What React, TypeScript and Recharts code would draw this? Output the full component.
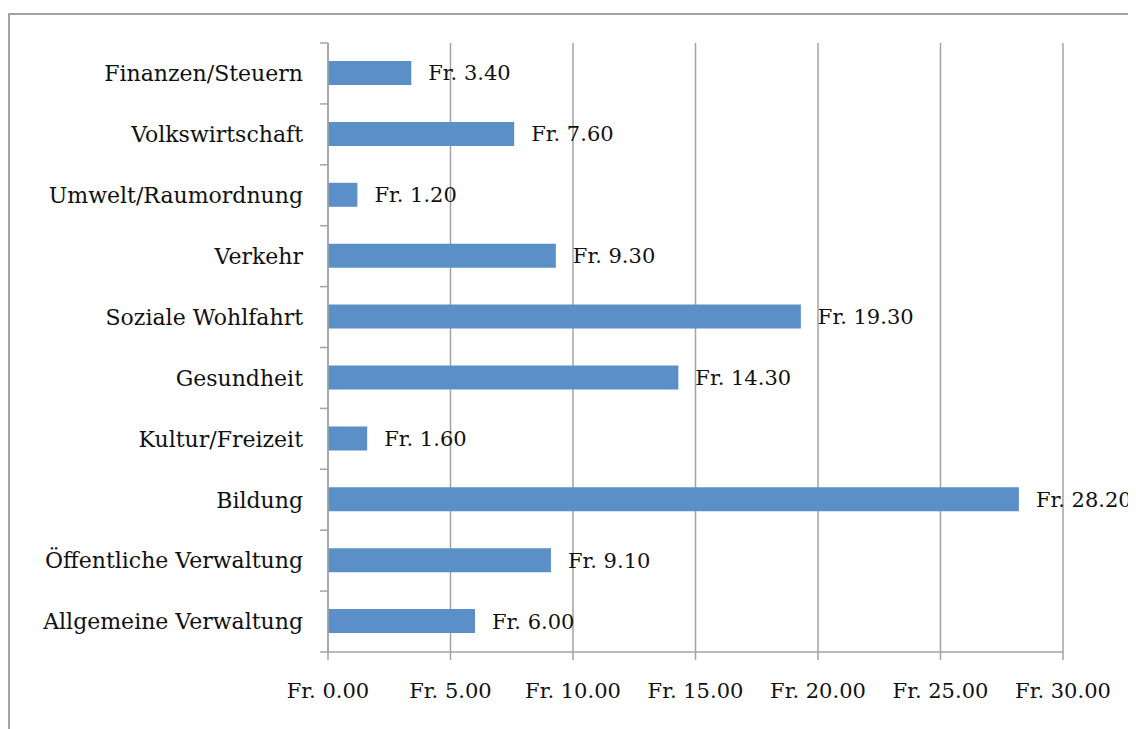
import React from "react";
import {
  BarChart,
  Bar,
  XAxis,
  YAxis,
  CartesianGrid,
  LabelList,
} from "recharts";

const categories = [
  "Finanzen/Steuern",
  "Volkswirtschaft",
  "Umwelt/Raumordnung",
  "Verkehr",
  "Soziale Wohlfahrt",
  "Gesundheit",
  "Kultur/Freizeit",
  "Bildung",
  "Öffentliche Verwaltung",
  "Allgemeine Verwaltung",
];
const values = [3.4, 7.6, 1.2, 9.3, 19.3, 14.3, 1.6, 28.2, 9.1, 6.0];
const xTicks = [0, 5, 10, 15, 20, 25, 30];

const data = categories.map((name, i) => ({ name, value: values[i] }));

const fmt = (v: number) => `Fr. ${Number(v).toFixed(2)}`;

const FONT = "'DejaVu Serif', serif";
const GRAY = "#a3a3a3";
const BLUE = "#5b8fc8";
const TICK_LEN = 8;
const LABEL_GAP = 17;

const CategoryTick = (props: any) => {
  const { x, y, payload, index, visibleTicksCount } = props;
  const half = payload && payload.offset ? payload.offset : 0;
  const lx2 = x + LABEL_GAP + TICK_LEN;
  const lx1 = x + LABEL_GAP;
  const isLast = index === visibleTicksCount - 1;
  return (
    <g>
      <line x1={lx1} x2={lx2} y1={y - half} y2={y - half} stroke={GRAY} strokeWidth={1.5} />
      {isLast && (
        <line x1={lx1} x2={lx2} y1={y + half} y2={y + half} stroke={GRAY} strokeWidth={1.5} />
      )}
      <text
        x={x}
        y={y}
        dy="0.355em"
        textAnchor="end"
        fill="#111"
        fontSize={22}
        fontFamily={FONT}
      >
        {payload.value}
      </text>
    </g>
  );
};

export default function App() {
  return (
    <div style={{ paddingTop: 5 }}>
      <div
        style={{
          borderTop: `2px solid ${GRAY}`,
          borderLeft: `2px solid ${GRAY}`,
          width: 1126,
          height: 714,
          overflow: "hidden",
        }}
      >
        <BarChart
          width={1126}
          height={714}
          data={data}
          layout="vertical"
          margin={{ top: 28, right: 73, bottom: 17, left: 0 }}
          style={{ fontFamily: FONT }}
        >
          <CartesianGrid
            horizontal={false}
            vertical={true}
            stroke={GRAY}
            strokeWidth={1.5}
          />
          <XAxis
            type="number"
            domain={[0, 30]}
            ticks={xTicks}
            tickFormatter={fmt}
            tickSize={8}
            tickMargin={23}
            height={60}
            stroke={GRAY}
            strokeWidth={1.5}
            tick={{ fill: "#111", fontSize: 21, fontFamily: FONT }}
            interval={0}
          />
          <YAxis
            type="category"
            dataKey="name"
            width={318}
            axisLine={{ stroke: GRAY, strokeWidth: 1.5 }}
            tickLine={false}
            tickSize={0}
            tickMargin={LABEL_GAP + TICK_LEN}
            interval={0}
            tick={<CategoryTick />}
          />
          <Bar dataKey="value" fill={BLUE} barSize={24} isAnimationActive={false}>
            <LabelList
              dataKey="value"
              position="right"
              offset={17}
              formatter={(v: any) => fmt(v)}
              style={{ fill: "#111", fontSize: 21, fontFamily: FONT }}
            />
          </Bar>
        </BarChart>
      </div>
    </div>
  );
}
